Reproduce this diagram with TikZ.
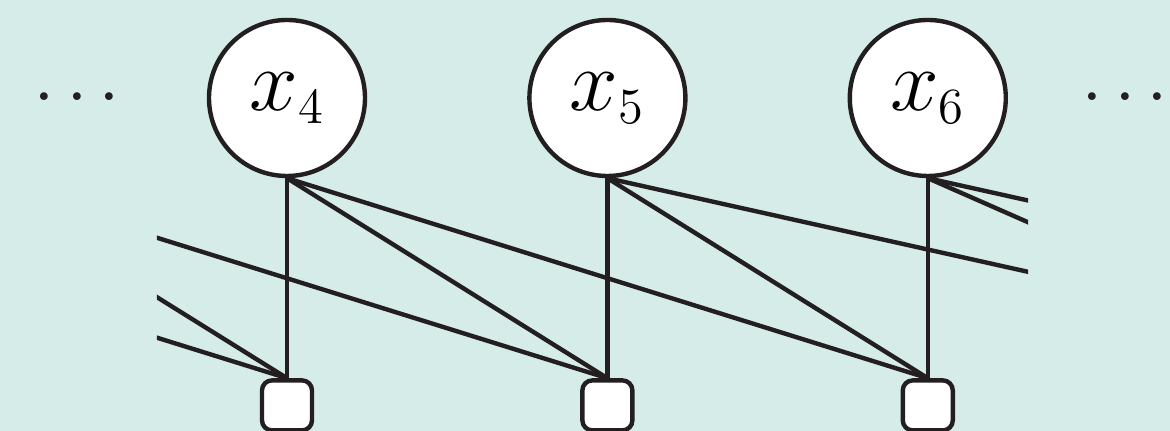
\documentclass[tikz,border=0pt]{standalone}
\usepackage{amsmath}
\usetikzlibrary{positioning}
\DeclareMathSizes{23}{23}{13.5}{9}
\definecolor{paper}{RGB}{214,236,232}
\definecolor{ink}{RGB}{35,31,32}

\begin{document}
\begin{tikzpicture}[
  node distance=2.0cm and 1.6cm,
  line width=1.25pt,
  var/.style={circle, draw=ink, fill=white, minimum size=1.56cm, inner sep=0pt,
    font=\fontsize{23}{28}\selectfont},
  fac/.style={rectangle, rounded corners=1mm, draw=ink, fill=white, minimum size=0.5cm, inner sep=0pt},
  edge/.style={draw=ink},
  dots/.style={text=ink, inner sep=0pt, font=\fontsize{27}{30}\selectfont},
]
\path[use as bounding box, fill=paper] (-2.87,0.98) rectangle (8.83,-3.33);

% variables and factors
\node[var] (x4) {$x_4$};
\node[var, right=of x4] (x5) {$x_5$};
\node[var, right=of x5] (x6) {$x_6$};
\node[fac, below=of x4] (f4) {};
\node[fac, below=of x5] (f5) {};
\node[fac, below=of x6] (f6) {};
\node[dots] (ldots) at (-2.10,0.01) {.\kern.09em.\kern.09em.};
\node[dots] (rdots) at (8.38,0.01) {.\kern.09em.\kern.09em.};

% ends that fall outside the frame
\coordinate (x3) at ([xshift=-3.21cm]x4.south);
\coordinate (x2) at ([xshift=-6.42cm]x4.south);
\coordinate (fa) at ([xshift=5.78cm]f6.north);
\coordinate (fb) at ([xshift=4.55cm]f6.north);
\coordinate (fc) at ([xshift=8.99cm]f6.north);

\begin{scope}
  \clip (-1.30,0.98) rectangle (7.41,-3.33);
  \draw[edge] (x2) -- (f4.north);
  \draw[edge] (x3) -- (f4.north);
  \draw[edge] (x3) -- (f5.north);
  \draw[edge] (x4.south) -- (f4.north);
  \draw[edge] (x4.south) -- (f5.north);
  \draw[edge] (x4.south) -- (f6.north);
  \draw[edge] (x5.south) -- (f5.north);
  \draw[edge] (x5.south) -- (f6.north);
  \draw[edge] (x5.south) -- (fa);
  \draw[edge] (x6.south) -- (f6.north);
  \draw[edge] (x6.south) -- (fb);
  \draw[edge] (x6.south) -- (fc);
\end{scope}
\end{tikzpicture}
\end{document}
